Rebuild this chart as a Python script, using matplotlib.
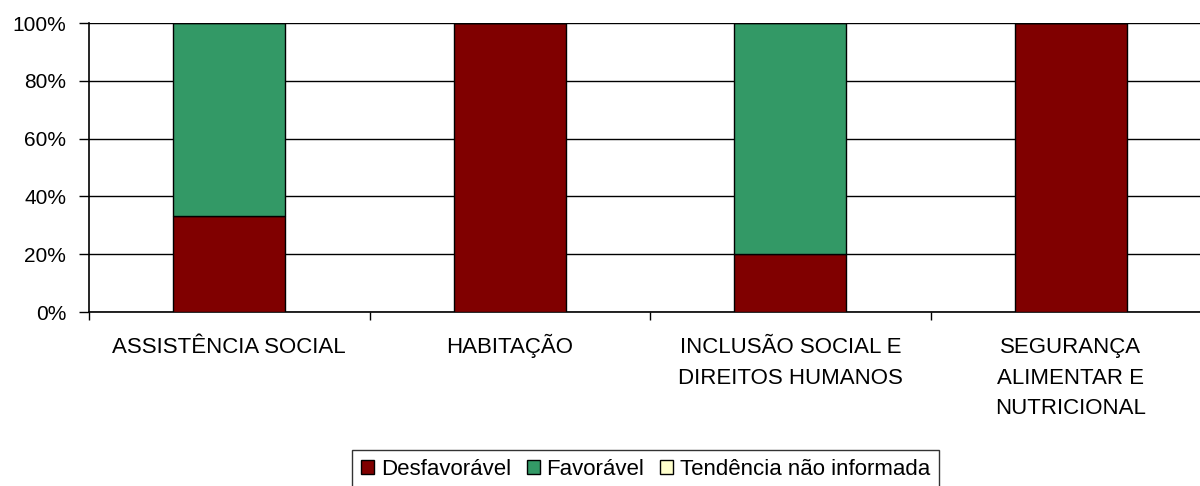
import matplotlib
matplotlib.use("Agg")
import matplotlib.pyplot as plt
from matplotlib.patches import Patch
from matplotlib.transforms import blended_transform_factory
import numpy as np

categories = ["ASSISTÊNCIA SOCIAL", "HABITAÇÃO", "INCLUSÃO SOCIAL E\nDIREITOS HUMANOS",
              "SEGURANÇA\nALIMENTAR E\nNUTRICIONAL"]
desfavoravel = [33.3, 100.0, 20.0, 100.0]
favoravel = [66.7, 0.0, 80.0, 0.0]
nao_informada = [0.0, 0.0, 0.0, 0.0]
series_names = ["Desfavorável", "Favorável", "Tendência não informada"]
colors = ["#800000", "#339966", "#FFFFCC"]
yticks = [0, 20, 40, 60, 80, 100]

plt.rcParams['font.family'] = ['Liberation Sans', 'DejaVu Sans']

fig = plt.figure(figsize=(12, 4.86), dpi=100)
W, H = 1200, 486
left, right, top, bottom = 89, 1211, 23, 312
ax = fig.add_axes([left / W, 1 - bottom / H, (right - left) / W, (bottom - top) / H])

x = np.arange(len(categories))
bw = 0.4
base = np.zeros(len(categories))
for vals, c in zip([desfavoravel, favoravel, nao_informada], colors):
    ax.bar(x, vals, bw, bottom=base, color=c, edgecolor="black", linewidth=1, zorder=3)
    base = base + np.array(vals)

ax.set_xlim(-0.5, len(categories) - 0.5)
ax.set_ylim(0, 100)
ax.set_yticks(yticks)
ax.set_yticklabels([f"{t}%" for t in yticks], fontsize=15)
ax.yaxis.grid(True, color="black", linewidth=1, zorder=0)
ax.set_axisbelow(True)

ax.set_xticks(np.arange(len(categories) + 1) - 0.5)
ax.set_xticklabels([])
ax.tick_params(axis="x", which="major", length=6, width=1, direction="out")
ax.tick_params(axis="y", length=7, width=1, direction="out", pad=9.5)

# category labels, each line placed on its own baseline
trans = blended_transform_factory(ax.transData, fig.transFigure)
first_baseline, line_step = 353, 30.5
for xi, label in zip(x, categories):
    for k, line in enumerate(label.split("\n")):
        ax.text(xi, 1 - (first_baseline + k * line_step) / H, line, transform=trans,
                ha="center", va="baseline", fontsize=16, clip_on=False)

for s in ["top", "right"]:
    ax.spines[s].set_visible(False)
for s in ["left", "bottom"]:
    ax.spines[s].set_linewidth(1.2)
    ax.spines[s].set_color("black")

handles = [Patch(facecolor=c, edgecolor="black", linewidth=1) for c in colors]
leg = fig.legend(handles, series_names, loc="upper left",
                 bbox_to_anchor=(352 / W, 1 - 450 / H), ncol=3, fontsize=16,
                 frameon=True, fancybox=False, edgecolor="black",
                 handlelength=0.6, handleheight=0.6, handletextpad=0.3,
                 columnspacing=0.7, borderpad=0.4, borderaxespad=0)
leg.get_frame().set_linewidth(1)

fig.savefig("out.png", dpi=100)
